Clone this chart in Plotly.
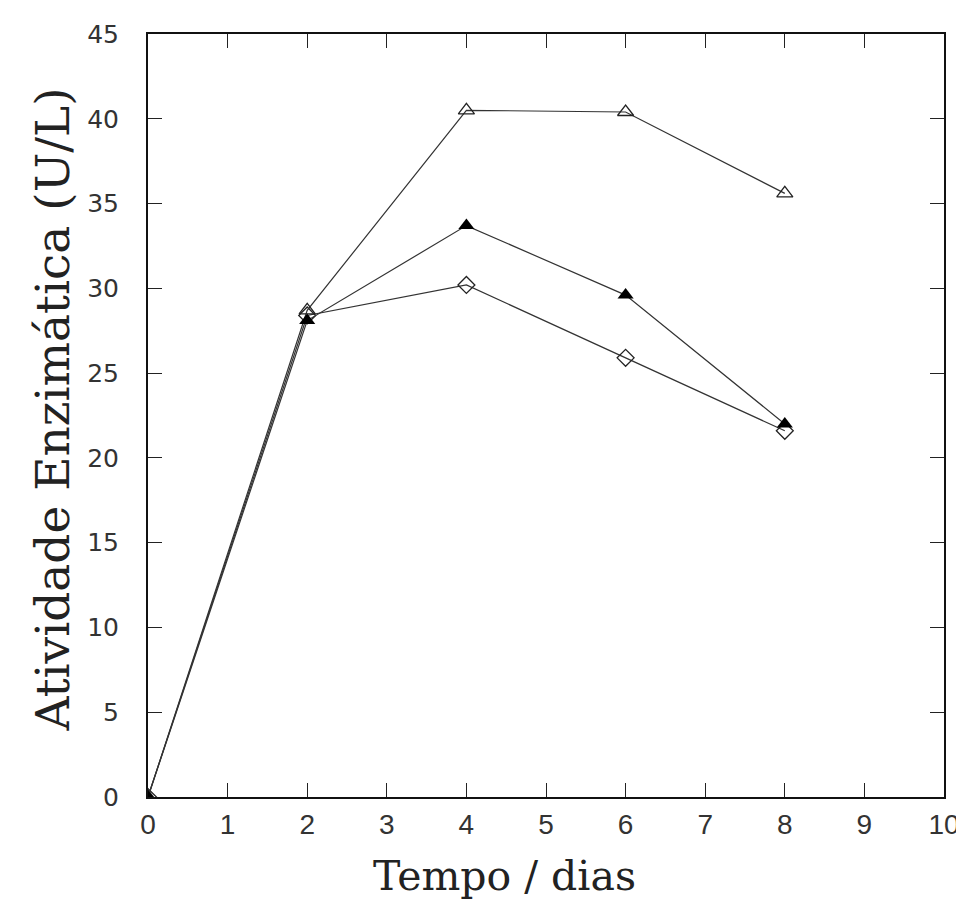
import plotly.graph_objects as go

dias = [0, 2, 4, 6, 8]
serie_triangulo_aberto = [0, 28.7, 40.5, 40.4, 35.6]
serie_triangulo_cheio = [0, 28.1, 33.7, 29.6, 22.0]
serie_losango = [0, 28.4, 30.2, 25.9, 21.6]
x_ticks = list(range(0, 11))
y_ticks = list(range(0, 50, 5))

# page body has an 8px margin; margins compensate for it
L, R, T, B = 140, 25, 18, 123
W, H = 964, 912
PW, PH = W - L - R, H - T - B


def px_x(x):  # target screen x -> paper coordinate
    return (x - 8 - L) / PW


def px_y(y):  # target screen y -> paper coordinate
    return (H - B - (y - 8)) / PH


fig = go.Figure()
line_style = dict(color="#333333", width=1.2)
fig.add_trace(go.Scatter(x=dias, y=serie_losango, mode="lines+markers", line=line_style,
                         marker=dict(symbol="diamond-open", size=13, color="#222", line=dict(width=1.3))))
fig.add_trace(go.Scatter(x=dias, y=serie_triangulo_aberto, mode="lines+markers", line=line_style,
                         marker=dict(symbol="triangle-up-open", size=14, color="#222", line=dict(width=1.3))))
fig.add_trace(go.Scatter(x=dias, y=serie_triangulo_cheio, mode="lines+markers", line=line_style,
                         marker=dict(symbol="triangle-up", size=14, color="#000")))

fig.update_layout(
    width=W, height=H,
    margin=dict(l=L, r=R, t=T, b=B),
    paper_bgcolor="white", plot_bgcolor="white",
    showlegend=False,
    xaxis=dict(range=[0, 10], tickvals=x_ticks, ticks="inside", ticklen=14, tickwidth=1.2,
               tickcolor="#222", showline=True, linecolor="#111", linewidth=2, mirror="ticks",
               showgrid=False, zeroline=False, ticklabelstandoff=1,
               tickfont=dict(family="Liberation Sans Narrow, Liberation Sans, sans-serif", size=28, color="#333")),
    yaxis=dict(range=[0, 45], tickvals=y_ticks, ticks="inside", ticklen=14, tickwidth=1.2,
               tickcolor="#222", showline=True, linecolor="#111", linewidth=2, mirror="ticks",
               showgrid=False, zeroline=False, ticklabelstandoff=22,
               tickfont=dict(family="DejaVu Sans, sans-serif", size=25, color="#333")),
    annotations=[
        dict(text="Tempo / dias", xref="paper", yref="paper", x=px_x(506), y=px_y(877),
             showarrow=False, xanchor="center", yanchor="middle",
             font=dict(family="DejaVu Serif, serif", size=41, color="#222")),
        dict(text="Atividade Enzimática (U/L)", xref="paper", yref="paper", x=px_x(52),
             y=px_y(405), showarrow=False, xanchor="center", yanchor="middle", textangle=-90,
             font=dict(family="DejaVu Serif, serif", size=47, color="#222")),
    ],
)

fig.write_html("out.html")
